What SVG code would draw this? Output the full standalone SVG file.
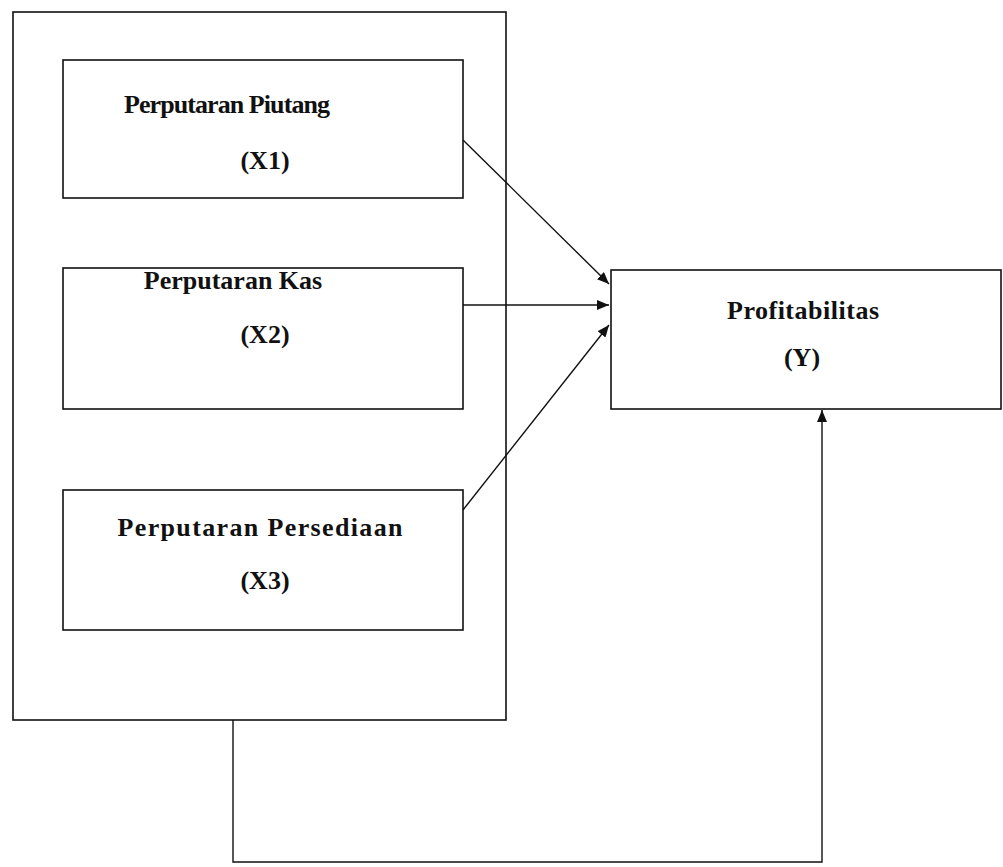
<svg xmlns="http://www.w3.org/2000/svg" width="1003" height="867" viewBox="0 0 1003 867">
<style>
.box{fill:none;stroke:#111;stroke-width:1.6}
.t{font-family:"Liberation Serif","Times New Roman",serif;font-weight:bold;font-size:26px;fill:#111;text-anchor:middle}
.c{fill:none;stroke:#111;stroke-width:1.4}
</style>
<defs>
<marker id="ah" viewBox="0 0 12 10" refX="12" refY="5" markerWidth="12" markerHeight="10" markerUnits="userSpaceOnUse" orient="auto">
<path d="M0,0 L12,5 L0,10 Z" fill="#111"/>
</marker>
</defs>
<rect width="1003" height="867" fill="#fff"/>
<g id="outer"><rect class="box" x="13" y="12" width="493" height="708"/></g>
<g id="x1"><rect class="box" x="63" y="60" width="400" height="138"/>
<text class="t" x="227" y="113" textLength="206" lengthAdjust="spacing">Perputaran Piutang</text>
<text class="t" x="265" y="169">(X1)</text></g>
<g id="x2"><rect class="box" x="63" y="268" width="400" height="141"/>
<text class="t" x="233" y="289">Perputaran Kas</text>
<text class="t" x="265" y="343">(X2)</text></g>
<g id="x3"><rect class="box" x="63" y="490" width="400" height="140"/>
<text class="t" x="260" y="536" textLength="285" lengthAdjust="spacing">Perputaran Persediaan</text>
<text class="t" x="265" y="589">(X3)</text></g>
<g id="y"><rect class="box" x="611" y="270" width="390" height="139"/>
<text class="t" x="803" y="319" textLength="152" lengthAdjust="spacing">Profitabilitas</text>
<text class="t" x="802" y="366">(Y)</text></g>
<g id="connectors">
<line class="c" x1="463" y1="140" x2="609" y2="284" marker-end="url(#ah)"/>
<line class="c" x1="463" y1="305" x2="609" y2="305" marker-end="url(#ah)"/>
<line class="c" x1="463" y1="510" x2="609" y2="325" marker-end="url(#ah)"/>
<polyline class="c" points="233,720 233,862 822,862 822,410" marker-end="url(#ah)"/>
</g>
</svg>
